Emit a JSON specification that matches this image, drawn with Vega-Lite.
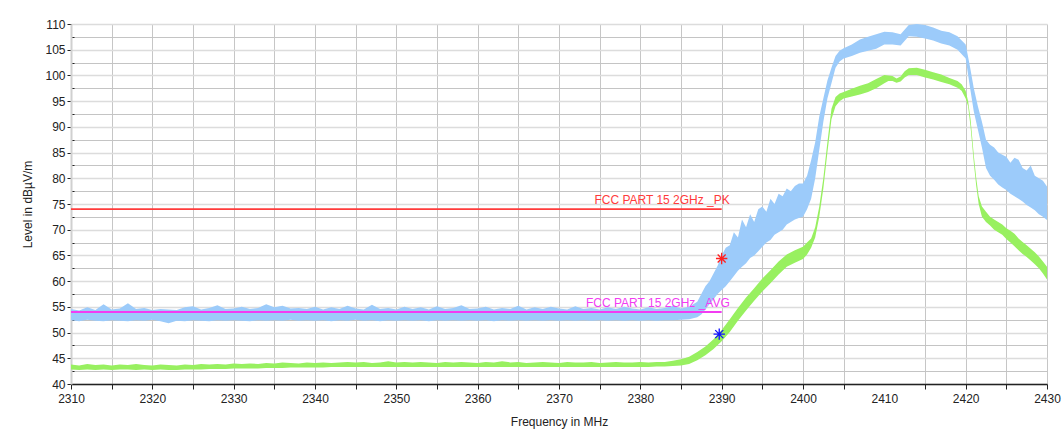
{
"$schema": "https://vega.github.io/schema/vega-lite/v6.json",
"width": 976, "height": 360,
"autosize": "none",
"padding": {"left": 71, "top": 24, "right": 17, "bottom": 45},
"background": "white",
"config": {"font": "Liberation Sans", "view": {"stroke": null}},
"datasets": {
"traces": [
{"series":"Average","freq":2310,"low":42.8,"high":43.8},{"series":"Average","freq":2311,"low":42.7,"high":43.6},{"series":"Average","freq":2312,"low":42.8,"high":43.9},{"series":"Average","freq":2313,"low":42.7,"high":43.7},{"series":"Average","freq":2314,"low":42.8,"high":43.8},{"series":"Average","freq":2315,"low":42.7,"high":43.6},{"series":"Average","freq":2316,"low":42.8,"high":43.8},{"series":"Average","freq":2317,"low":42.8,"high":43.7},{"series":"Average","freq":2318,"low":42.7,"high":43.9},{"series":"Average","freq":2319,"low":42.8,"high":43.7},{"series":"Average","freq":2320,"low":42.7,"high":43.6},{"series":"Average","freq":2321,"low":42.8,"high":43.8},{"series":"Average","freq":2322,"low":42.7,"high":43.7},{"series":"Average","freq":2323,"low":42.7,"high":43.6},{"series":"Average","freq":2324,"low":42.8,"high":43.8},{"series":"Average","freq":2325,"low":42.8,"high":43.7},{"series":"Average","freq":2326,"low":42.8,"high":43.9},{"series":"Average","freq":2327,"low":42.9,"high":43.8},{"series":"Average","freq":2328,"low":42.9,"high":43.9},{"series":"Average","freq":2329,"low":42.9,"high":43.8},{"series":"Average","freq":2330,"low":43.0,"high":44.0},{"series":"Average","freq":2331,"low":43.0,"high":43.9},{"series":"Average","freq":2332,"low":43.0,"high":44.0},{"series":"Average","freq":2333,"low":43.0,"high":43.9},{"series":"Average","freq":2334,"low":43.1,"high":44.1},{"series":"Average","freq":2335,"low":43.1,"high":44.0},{"series":"Average","freq":2336,"low":43.1,"high":44.2},{"series":"Average","freq":2337,"low":43.2,"high":44.1},{"series":"Average","freq":2338,"low":43.2,"high":44.0},{"series":"Average","freq":2339,"low":43.2,"high":44.2},{"series":"Average","freq":2340,"low":43.2,"high":44.1},{"series":"Average","freq":2341,"low":43.2,"high":44.2},{"series":"Average","freq":2342,"low":43.3,"high":44.1},{"series":"Average","freq":2343,"low":43.3,"high":44.2},{"series":"Average","freq":2344,"low":43.3,"high":44.3},{"series":"Average","freq":2345,"low":43.3,"high":44.2},{"series":"Average","freq":2346,"low":43.3,"high":44.3},{"series":"Average","freq":2347,"low":43.3,"high":44.1},{"series":"Average","freq":2348,"low":43.3,"high":44.2},{"series":"Average","freq":2349,"low":43.3,"high":44.4},{"series":"Average","freq":2350,"low":43.3,"high":44.2},{"series":"Average","freq":2351,"low":43.3,"high":44.3},{"series":"Average","freq":2352,"low":43.3,"high":44.2},{"series":"Average","freq":2353,"low":43.3,"high":44.3},{"series":"Average","freq":2354,"low":43.3,"high":44.2},{"series":"Average","freq":2355,"low":43.3,"high":44.1},{"series":"Average","freq":2356,"low":43.3,"high":44.3},{"series":"Average","freq":2357,"low":43.3,"high":44.2},{"series":"Average","freq":2358,"low":43.3,"high":44.3},{"series":"Average","freq":2359,"low":43.3,"high":44.2},{"series":"Average","freq":2360,"low":43.3,"high":44.1},{"series":"Average","freq":2361,"low":43.3,"high":44.3},{"series":"Average","freq":2362,"low":43.3,"high":44.2},{"series":"Average","freq":2363,"low":43.3,"high":44.4},{"series":"Average","freq":2364,"low":43.3,"high":44.2},{"series":"Average","freq":2365,"low":43.3,"high":44.3},{"series":"Average","freq":2366,"low":43.3,"high":44.1},{"series":"Average","freq":2367,"low":43.3,"high":44.2},{"series":"Average","freq":2368,"low":43.3,"high":44.3},{"series":"Average","freq":2369,"low":43.3,"high":44.2},{"series":"Average","freq":2370,"low":43.3,"high":44.1},{"series":"Average","freq":2371,"low":43.3,"high":44.3},{"series":"Average","freq":2372,"low":43.3,"high":44.2},{"series":"Average","freq":2373,"low":43.3,"high":44.2},{"series":"Average","freq":2374,"low":43.3,"high":44.3},{"series":"Average","freq":2375,"low":43.3,"high":44.1},{"series":"Average","freq":2376,"low":43.3,"high":44.2},{"series":"Average","freq":2377,"low":43.3,"high":44.3},{"series":"Average","freq":2378,"low":43.3,"high":44.2},{"series":"Average","freq":2379,"low":43.3,"high":44.2},{"series":"Average","freq":2380,"low":43.3,"high":44.3},{"series":"Average","freq":2381,"low":43.3,"high":44.2},{"series":"Average","freq":2382,"low":43.4,"high":44.3},{"series":"Average","freq":2383,"low":43.4,"high":44.3},{"series":"Average","freq":2384,"low":43.5,"high":44.5},
{"series":"Average","freq":2385,"low":43.6,"high":44.8},{"series":"Average","freq":2386,"low":43.9,"high":45.3},{"series":"Average","freq":2387,"low":44.6,"high":46.2},{"series":"Average","freq":2388,"low":45.6,"high":47.3},{"series":"Average","freq":2389,"low":46.8,"high":48.7},{"series":"Average","freq":2390,"low":48.3,"high":50.5},{"series":"Average","freq":2391,"low":50.1,"high":52.6},{"series":"Average","freq":2392,"low":52.3,"high":54.8},{"series":"Average","freq":2393,"low":54.3,"high":56.8},{"series":"Average","freq":2394,"low":56.2,"high":58.6},{"series":"Average","freq":2395,"low":58.0,"high":60.5},{"series":"Average","freq":2396,"low":59.6,"high":62.1},{"series":"Average","freq":2397,"low":61.3,"high":63.8},{"series":"Average","freq":2398,"low":62.8,"high":65.2},{"series":"Average","freq":2399,"low":63.6,"high":66.0},{"series":"Average","freq":2400,"low":64.3,"high":66.7},{"series":"Average","freq":2400.5,"low":65.2,"high":67.5},{"series":"Average","freq":2401,"low":66.5,"high":68.3},{"series":"Average","freq":2401.5,"low":68.5,"high":70.5},{"series":"Average","freq":2402,"low":72.5,"high":74.5},{"series":"Average","freq":2402.5,"low":78.0,"high":80.0},{"series":"Average","freq":2403,"low":85.0,"high":87.0},{"series":"Average","freq":2403.5,"low":91.5,"high":93.5},{"series":"Average","freq":2404,"low":94.0,"high":95.8},{"series":"Average","freq":2404.5,"low":95.0,"high":96.5},{"series":"Average","freq":2405,"low":95.5,"high":96.8},{"series":"Average","freq":2406,"low":95.9,"high":97.4},{"series":"Average","freq":2407,"low":96.3,"high":98.0},{"series":"Average","freq":2408,"low":96.8,"high":98.5},{"series":"Average","freq":2409,"low":97.5,"high":99.3},{"series":"Average","freq":2410,"low":98.5,"high":100.1},{"series":"Average","freq":2410.5,"low":98.9,"high":100.0},{"series":"Average","freq":2411,"low":98.9,"high":99.9},{"series":"Average","freq":2411.5,"low":98.6,"high":99.4},{"series":"Average","freq":2412,"low":98.8,"high":99.8},{"series":"Average","freq":2412.5,"low":99.6,"high":100.8},{"series":"Average","freq":2413,"low":100.1,"high":101.4},{"series":"Average","freq":2414,"low":100.1,"high":101.5},{"series":"Average","freq":2415,"low":99.6,"high":101.1},{"series":"Average","freq":2416,"low":99.2,"high":100.6},{"series":"Average","freq":2417,"low":98.7,"high":100.2},{"series":"Average","freq":2418,"low":98.3,"high":99.5},{"series":"Average","freq":2419,"low":97.6,"high":98.9},{"series":"Average","freq":2419.5,"low":97.0,"high":98.3},{"series":"Average","freq":2420,"low":95.5,"high":97.0},{"series":"Average","freq":2420.3,"low":94.0,"high":95.0},{"series":"Average","freq":2420.6,"low":90.0,"high":91.5},{"series":"Average","freq":2421,"low":83.0,"high":84.5},{"series":"Average","freq":2421.3,"low":78.5,"high":80.0},{"series":"Average","freq":2421.6,"low":75.0,"high":76.5},{"series":"Average","freq":2422,"low":72.5,"high":74.5},{"series":"Average","freq":2422.5,"low":71.5,"high":73.5},{"series":"Average","freq":2423,"low":70.8,"high":72.5},{"series":"Average","freq":2423.5,"low":70.0,"high":72.0},{"series":"Average","freq":2424,"low":69.5,"high":71.5},{"series":"Average","freq":2424.5,"low":69.0,"high":71.0},{"series":"Average","freq":2425,"low":68.2,"high":70.3},{"series":"Average","freq":2425.5,"low":67.5,"high":69.8},{"series":"Average","freq":2426,"low":66.8,"high":69.2},{"series":"Average","freq":2426.5,"low":66.0,"high":68.3},{"series":"Average","freq":2427,"low":65.3,"high":67.6},{"series":"Average","freq":2427.5,"low":64.7,"high":67.0},{"series":"Average","freq":2428,"low":64.0,"high":66.3},{"series":"Average","freq":2428.5,"low":63.3,"high":65.6},{"series":"Average","freq":2429,"low":62.5,"high":64.8},{"series":"Average","freq":2429.5,"low":61.5,"high":63.8},{"series":"Average","freq":2430,"low":60.3,"high":62.8},
{"series":"Peak","freq":2310,"low":52.4,"high":54.6},{"series":"Peak","freq":2311,"low":52.2,"high":54.3},{"series":"Peak","freq":2312,"low":52.5,"high":54.9},{"series":"Peak","freq":2313,"low":52.3,"high":54.4},{"series":"Peak","freq":2314,"low":52.2,"high":55.5},{"series":"Peak","freq":2315,"low":52.4,"high":54.5},{"series":"Peak","freq":2316,"low":52.3,"high":54.7},{"series":"Peak","freq":2317,"low":52.2,"high":55.7},{"series":"Peak","freq":2318,"low":52.4,"high":54.6},{"series":"Peak","freq":2319,"low":52.3,"high":54.8},{"series":"Peak","freq":2320,"low":52.5,"high":54.4},{"series":"Peak","freq":2321,"low":52.2,"high":54.6},{"series":"Peak","freq":2322,"low":51.8,"high":54.5},{"series":"Peak","freq":2323,"low":52.3,"high":54.4},{"series":"Peak","freq":2324,"low":52.2,"high":54.9},{"series":"Peak","freq":2325,"low":52.4,"high":55.1},{"series":"Peak","freq":2326,"low":52.3,"high":54.5},{"series":"Peak","freq":2327,"low":52.2,"high":54.8},{"series":"Peak","freq":2328,"low":52.4,"high":55.3},{"series":"Peak","freq":2329,"low":52.3,"high":54.6},{"series":"Peak","freq":2330,"low":52.4,"high":54.7},{"series":"Peak","freq":2331,"low":52.3,"high":55.0},{"series":"Peak","freq":2332,"low":52.2,"high":54.6},{"series":"Peak","freq":2333,"low":52.4,"high":54.8},{"series":"Peak","freq":2334,"low":52.3,"high":55.5},{"series":"Peak","freq":2335,"low":52.4,"high":54.9},{"series":"Peak","freq":2336,"low":52.3,"high":55.2},{"series":"Peak","freq":2337,"low":52.5,"high":54.7},{"series":"Peak","freq":2338,"low":52.3,"high":54.8},{"series":"Peak","freq":2339,"low":52.4,"high":54.6},{"series":"Peak","freq":2340,"low":52.3,"high":55.0},{"series":"Peak","freq":2341,"low":52.4,"high":54.5},{"series":"Peak","freq":2342,"low":52.2,"high":54.9},{"series":"Peak","freq":2343,"low":52.4,"high":54.6},{"series":"Peak","freq":2344,"low":52.3,"high":55.2},{"series":"Peak","freq":2345,"low":52.5,"high":54.7},{"series":"Peak","freq":2346,"low":52.3,"high":54.5},{"series":"Peak","freq":2347,"low":52.4,"high":55.4},{"series":"Peak","freq":2348,"low":52.2,"high":54.6},{"series":"Peak","freq":2349,"low":52.4,"high":54.8},{"series":"Peak","freq":2350,"low":52.3,"high":54.5},{"series":"Peak","freq":2351,"low":52.4,"high":55.0},{"series":"Peak","freq":2352,"low":52.3,"high":54.6},{"series":"Peak","freq":2353,"low":52.4,"high":54.9},{"series":"Peak","freq":2354,"low":52.2,"high":54.5},{"series":"Peak","freq":2355,"low":52.4,"high":55.1},{"series":"Peak","freq":2356,"low":52.3,"high":54.6},{"series":"Peak","freq":2357,"low":52.4,"high":54.8},{"series":"Peak","freq":2358,"low":52.3,"high":55.3},{"series":"Peak","freq":2359,"low":52.4,"high":54.6},{"series":"Peak","freq":2360,"low":52.3,"high":54.7},{"series":"Peak","freq":2361,"low":52.4,"high":55.0},{"series":"Peak","freq":2362,"low":52.2,"high":54.5},{"series":"Peak","freq":2363,"low":52.4,"high":54.8},{"series":"Peak","freq":2364,"low":52.3,"high":54.6},{"series":"Peak","freq":2365,"low":52.4,"high":55.2},{"series":"Peak","freq":2366,"low":52.3,"high":54.5},{"series":"Peak","freq":2367,"low":52.4,"high":54.9},{"series":"Peak","freq":2368,"low":52.3,"high":54.6},{"series":"Peak","freq":2369,"low":52.4,"high":55.0},{"series":"Peak","freq":2370,"low":52.3,"high":54.7},{"series":"Peak","freq":2371,"low":52.4,"high":54.5},{"series":"Peak","freq":2372,"low":52.3,"high":55.1},{"series":"Peak","freq":2373,"low":52.4,"high":54.6},{"series":"Peak","freq":2374,"low":52.3,"high":54.8},{"series":"Peak","freq":2375,"low":52.4,"high":54.5},{"series":"Peak","freq":2376,"low":52.3,"high":54.9},{"series":"Peak","freq":2377,"low":52.4,"high":54.6},{"series":"Peak","freq":2378,"low":52.3,"high":55.0},{"series":"Peak","freq":2379,"low":52.4,"high":54.7},{"series":"Peak","freq":2380,"low":52.3,"high":54.5},{"series":"Peak","freq":2381,"low":52.4,"high":54.9},{"series":"Peak","freq":2382,"low":52.3,"high":54.6},{"series":"Peak","freq":2383,"low":52.4,"high":54.8},{"series":"Peak","freq":2384,"low":52.4,"high":55.2},{"series":"Peak","freq":2385,"low":52.5,"high":54.7},{"series":"Peak","freq":2386,"low":52.6,"high":55.0},
{"series":"Peak","freq":2387,"low":53.0,"high":56.0},{"series":"Peak","freq":2387.5,"low":53.5,"high":57.5},{"series":"Peak","freq":2388,"low":54.5,"high":59.0},{"series":"Peak","freq":2388.5,"low":55.5,"high":60.0},{"series":"Peak","freq":2389,"low":56.5,"high":61.5},{"series":"Peak","freq":2389.5,"low":57.5,"high":63.0},{"series":"Peak","freq":2390,"low":58.3,"high":65.0},{"series":"Peak","freq":2390.5,"low":59.0,"high":66.5},{"series":"Peak","freq":2391,"low":60.0,"high":67.0},{"series":"Peak","freq":2391.5,"low":61.0,"high":69.5},{"series":"Peak","freq":2392,"low":62.0,"high":68.5},{"series":"Peak","freq":2392.5,"low":62.8,"high":72.0},{"series":"Peak","freq":2393,"low":63.5,"high":70.5},{"series":"Peak","freq":2393.5,"low":64.5,"high":73.0},{"series":"Peak","freq":2394,"low":65.0,"high":71.5},{"series":"Peak","freq":2394.5,"low":65.8,"high":74.0},{"series":"Peak","freq":2395,"low":66.7,"high":74.5},{"series":"Peak","freq":2395.5,"low":67.5,"high":73.5},{"series":"Peak","freq":2396,"low":68.0,"high":76.0},{"series":"Peak","freq":2396.5,"low":69.0,"high":75.0},{"series":"Peak","freq":2397,"low":69.5,"high":77.0},{"series":"Peak","freq":2397.5,"low":70.0,"high":76.5},{"series":"Peak","freq":2398,"low":71.0,"high":78.0},{"series":"Peak","freq":2398.5,"low":71.5,"high":77.5},{"series":"Peak","freq":2399,"low":72.0,"high":78.5},{"series":"Peak","freq":2399.5,"low":72.3,"high":79.0},{"series":"Peak","freq":2400,"low":72.5,"high":79.0},{"series":"Peak","freq":2400.5,"low":74.0,"high":80.5},{"series":"Peak","freq":2401,"low":76.0,"high":83.5},{"series":"Peak","freq":2401.5,"low":80.0,"high":87.0},{"series":"Peak","freq":2402,"low":85.5,"high":92.0},{"series":"Peak","freq":2402.5,"low":91.0,"high":95.5},{"series":"Peak","freq":2403,"low":95.5,"high":99.0},{"series":"Peak","freq":2403.5,"low":98.5,"high":101.5},{"series":"Peak","freq":2404,"low":101.5,"high":103.8},{"series":"Peak","freq":2404.5,"low":102.7,"high":104.8},{"series":"Peak","freq":2405,"low":103.3,"high":105.3},{"series":"Peak","freq":2406,"low":103.8,"high":106.0},{"series":"Peak","freq":2407,"low":104.4,"high":107.0},{"series":"Peak","freq":2408,"low":104.8,"high":107.5},{"series":"Peak","freq":2409,"low":105.2,"high":108.0},{"series":"Peak","freq":2410,"low":106.0,"high":108.5},{"series":"Peak","freq":2411,"low":106.0,"high":108.4},{"series":"Peak","freq":2412,"low":105.8,"high":108.0},{"series":"Peak","freq":2413,"low":107.6,"high":109.8},{"series":"Peak","freq":2414,"low":107.5,"high":110.0},{"series":"Peak","freq":2415,"low":107.2,"high":109.8},{"series":"Peak","freq":2416,"low":106.8,"high":109.3},{"series":"Peak","freq":2417,"low":106.2,"high":108.7},{"series":"Peak","freq":2418,"low":105.8,"high":108.4},{"series":"Peak","freq":2419,"low":105.0,"high":107.6},{"series":"Peak","freq":2420,"low":103.3,"high":106.0},{"series":"Peak","freq":2420.5,"low":98.0,"high":102.0},{"series":"Peak","freq":2421,"low":93.0,"high":97.5},{"series":"Peak","freq":2421.5,"low":89.5,"high":94.0},{"series":"Peak","freq":2422,"low":86.0,"high":91.0},{"series":"Peak","freq":2422.5,"low":82.0,"high":87.5},{"series":"Peak","freq":2423,"low":80.5,"high":86.5},{"series":"Peak","freq":2423.5,"low":79.7,"high":86.0},{"series":"Peak","freq":2424,"low":78.8,"high":85.0},{"series":"Peak","freq":2424.5,"low":78.2,"high":84.6},{"series":"Peak","freq":2425,"low":77.7,"high":84.2},{"series":"Peak","freq":2425.5,"low":77.0,"high":83.0},{"series":"Peak","freq":2426,"low":76.5,"high":84.0},{"series":"Peak","freq":2426.5,"low":76.0,"high":83.6},{"series":"Peak","freq":2427,"low":75.5,"high":82.0},{"series":"Peak","freq":2427.5,"low":74.8,"high":81.5},{"series":"Peak","freq":2428,"low":74.3,"high":82.5},{"series":"Peak","freq":2428.5,"low":73.8,"high":80.5},{"series":"Peak","freq":2429,"low":73.0,"high":80.0},{"series":"Peak","freq":2429.5,"low":72.5,"high":79.5},{"series":"Peak","freq":2430,"low":71.9,"high":78.4}
],
"limits": [
{"name":"PK limit","freq":2310,"level":74},{"name":"PK limit","freq":2390,"level":74},
{"name":"AVG limit","freq":2310,"level":54},{"name":"AVG limit","freq":2390,"level":54}
],
"labels": [
{"name":"PK limit","freq":2391,"level":74,"label":"FCC PART 15 2GHz _PK"},
{"name":"AVG limit","freq":2391,"level":54,"label":"FCC PART 15 2GHz _AVG"}
],
"markers": [
{"name":"PK marker","freq":2390,"level":64.4},
{"name":"AVG marker","freq":2389.7,"level":49.7}
]
},
"encoding": {
"x": {"field":"freq","type":"quantitative",
 "scale":{"domain":[2310,2430],"nice":false,"zero":false},
 "axis":{"title":"Frequency in MHz","values":[2310,2315,2320,2325,2330,2335,2340,2345,2350,2355,2360,2365,2370,2375,2380,2385,2390,2395,2400,2405,2410,2415,2420,2425,2430],
  "labelExpr":"datum.value % 10 === 0 ? datum.label : ''","format":"d","labelFlush":false,"labelOverlap":false,
  "labelFontSize":12,"labelColor":"#222","labelPadding":4,"tickSize":5,"tickColor":"#222","domainColor":"#222","domainWidth":1.5,
  "tickOpacity":{"condition":{"test":"datum.value === 2410","value":0},"value":1},
  "gridOpacity":{"condition":{"test":"datum.value === 2410","value":0},"value":1},
  "gridColor":"#c6c6c6","gridWidth":1,"titleFontSize":12,"titleFontWeight":"normal","titleColor":"#222","titlePadding":12}},
"y": {"type":"quantitative",
 "scale":{"domain":[40,110],"nice":false,"zero":false},
 "axis":{"title":"Level in dBµV/m","values":[40,42.5,45,47.5,50,52.5,55,57.5,60,62.5,65,67.5,70,72.5,75,77.5,80,82.5,85,87.5,90,92.5,95,97.5,100,102.5,105,107.5,110],
  "labelExpr":"datum.value % 5 === 0 ? datum.label : ''","labelOverlap":false,"labelFlush":false,
  "labelFontSize":12,"labelColor":"#222","labelPadding":2,
  "tickSize":{"condition":{"test":"datum.value % 5 === 0","value":4},"value":-3},"tickColor":"#222",
  "domainColor":"#d0d0d0","domainWidth":2,
  "gridColor":{"condition":{"test":"datum.value % 5 === 0","value":"#dcdcdc"},"value":"#c4c4c4"},
  "gridWidth":{"condition":{"test":"datum.value % 5 === 0","value":1.6},"value":1},
  "titleFontSize":12,"titleFontWeight":"normal","titleColor":"#222","titlePadding":10}},
"color": {"field":"name","type":"nominal","legend":null,
 "scale":{"domain":["Average","Peak","PK limit","AVG limit","PK marker","AVG marker"],
  "range":["#98f060","#9ccbfa","#ff3b3b","#f23cf2","#ff2020","#1010ff"]}}
},
"layer": [
{"data":{"name":"traces"},"transform":[{"filter":"datum.series === 'Average'"}],
 "mark":{"type":"area","opacity":1,"strokeWidth":0},
 "encoding":{"y":{"field":"low"},"y2":{"field":"high"},"color":{"datum":"Average"}}},
{"data":{"name":"traces"},"transform":[{"filter":"datum.series === 'Peak'"}],
 "mark":{"type":"area","opacity":1,"strokeWidth":0},
 "encoding":{"y":{"field":"low"},"y2":{"field":"high"},"color":{"datum":"Peak"}}},
{"data":{"name":"limits"},
 "mark":{"type":"line","strokeWidth":1.8},
 "encoding":{"y":{"field":"level"}}},
{"data":{"name":"labels"},
 "mark":{"type":"text","align":"right","baseline":"bottom","dy":-2,"fontSize":12},
 "encoding":{"y":{"field":"level"},"text":{"field":"label"}}},
{"data":{"name":"markers"},
 "mark":{"type":"point","shape":"M0,-1L0,1M-1,0L1,0M-0.7,-0.7L0.7,0.7M-0.7,0.7L0.7,-0.7","filled":false,"size":130,"strokeWidth":1.3,"opacity":1},
 "encoding":{"y":{"field":"level"}}}
]
}
